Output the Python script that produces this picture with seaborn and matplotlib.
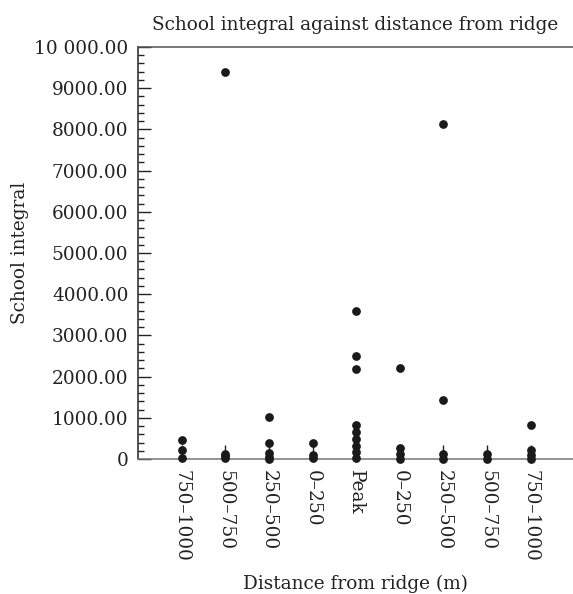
import numpy as np
import pandas as pd
import matplotlib
matplotlib.use("Agg")
import matplotlib.pyplot as plt
from matplotlib.ticker import MultipleLocator, FuncFormatter
import seaborn as sns


# categories along the transect (west side, peak, east side)
bands = ["750–1000", "500–750", "250–500", "0–250", "Peak",
         "0–250", "250–500", "500–750", "750–1000"]
keys = ["W750", "W500", "W250", "W0", "Peak", "E0", "E250", "E500", "E750"]

# school integral values
w_750_1000 = [470, 230, 20]
w_500_750 = [9390, 130, 70, 20]
w_250_500 = [1030, 390, 150, 60, 10]
w_0_250 = [400, 100, 20]
peak = [3600, 2500, 2180, 830, 650, 490, 320, 160, 15]
e_0_250 = [2200, 260, 120, 10]
e_250_500 = [8140, 1430, 120, 10]
e_500_750 = [110, 10]
e_750_1000 = [830, 210, 100, 10]

groups = [w_750_1000, w_500_750, w_250_500, w_0_250, peak,
          e_0_250, e_250_500, e_500_750, e_750_1000]

rows = []
for k, vals in zip(keys, groups):
    for v in vals:
        rows.append({"key": k, "value": v})
df = pd.DataFrame(rows)


sns.set_style("ticks")
plt.rcParams["font.family"] = ["DejaVu Serif"]
plt.rcParams["text.color"] = "#222222"
plt.rcParams["axes.labelcolor"] = "#222222"
plt.rcParams["xtick.color"] = "#222222"
plt.rcParams["ytick.color"] = "#222222"

fs = 13.3

fig = plt.figure(figsize=(5.73, 5.94), dpi=100)
ax = fig.add_axes([138 / 573, 135 / 594, 435 / 573, 412 / 594])

sns.stripplot(
    data=df, x="key", y="value", order=keys,
    jitter=False, color="#1a1a1a", size=6.3, linewidth=0,
    ax=ax, zorder=3, clip_on=False
)

ax.set_xlim(-1, 8.97)
ax.set_ylim(0, 10000)
ax.set_xticks(range(len(bands)))
ax.set_xticklabels(bands, rotation=270, fontsize=fs)

ax.yaxis.set_major_locator(MultipleLocator(1000))
ax.yaxis.set_minor_locator(MultipleLocator(200))


def fmt(v, pos):
    if v == 0:
        return "0"
    s = f"{v:,.2f}"
    if v >= 10000:
        return s.replace(",", " ")
    return s.replace(",", "")


ax.yaxis.set_major_formatter(FuncFormatter(fmt))
ax.tick_params(axis="y", which="major", direction="in", length=9.5, width=1,
               labelsize=fs, pad=7)
ax.tick_params(axis="y", which="minor", direction="in", length=4.3, width=1)
ax.tick_params(axis="x", which="major", direction="in", length=10, width=1,
               pad=8)

ax.spines["right"].set_visible(False)
ax.spines["left"].set_color("#222222")
ax.spines["top"].set_color("#555555")
ax.spines["bottom"].set_color("#777777")
for s in ["left", "top", "bottom"]:
    ax.spines[s].set_linewidth(1.1)

ax.set_title("School integral against distance from ridge", fontsize=fs, pad=12)
ax.set_xlabel("Distance from ridge (m)", fontsize=fs, labelpad=9)
ax.set_ylabel("School integral", fontsize=fs, labelpad=4)

fig.savefig("out.png", dpi=100)
